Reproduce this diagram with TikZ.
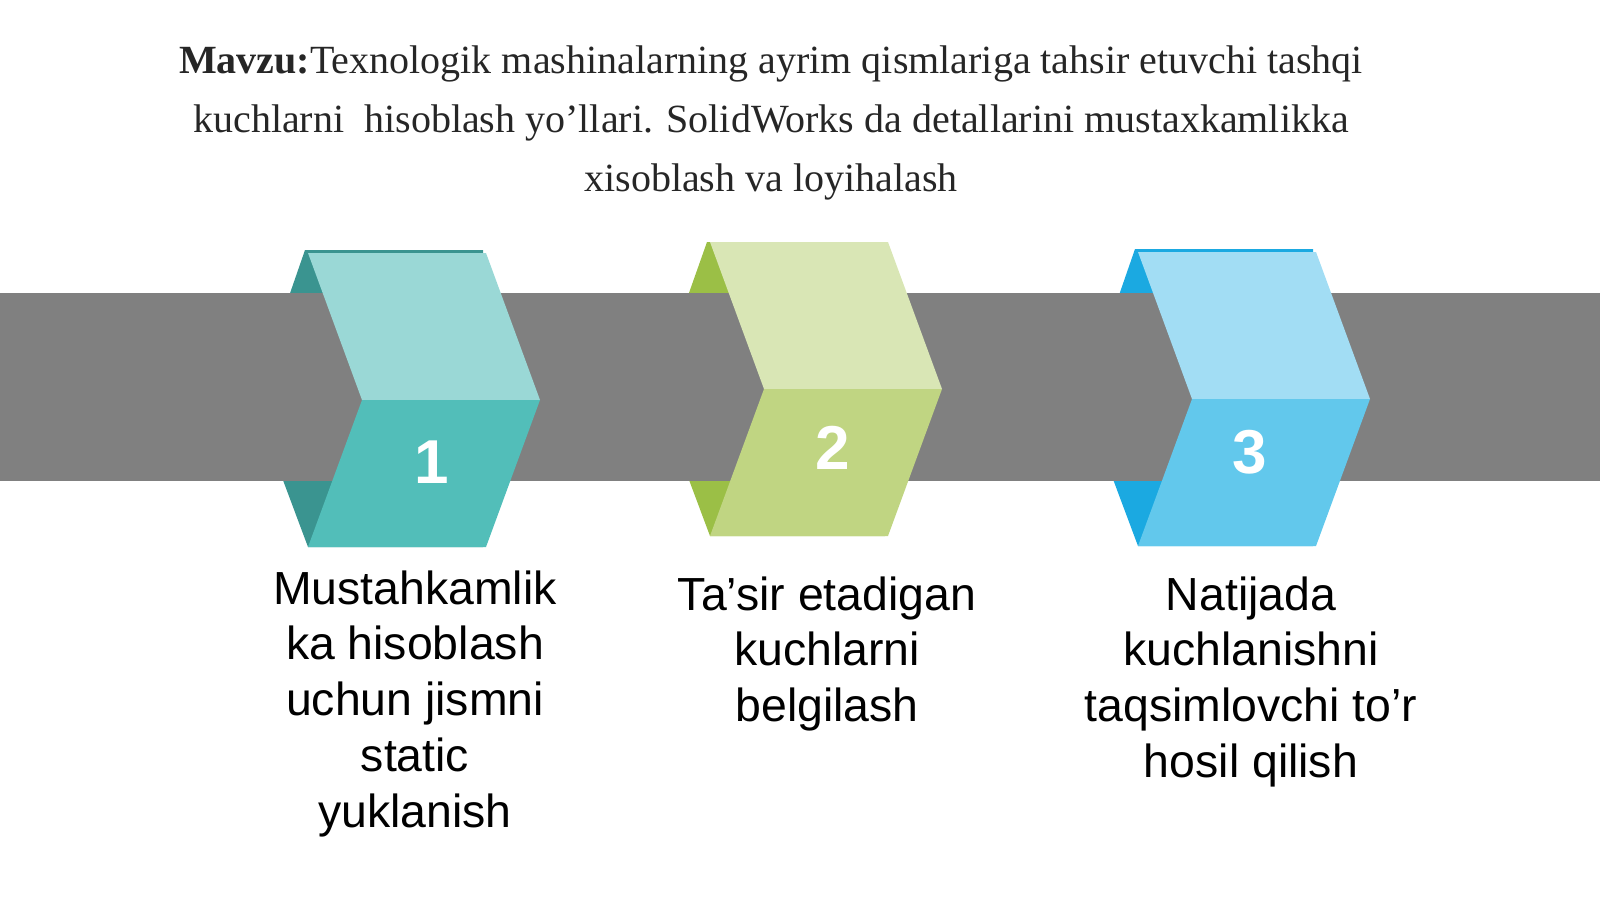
\documentclass[tikz,border=0pt]{standalone}
\usepackage{fontspec}
\setmainfont{Liberation Serif}
\newfontfamily\sansfont{Liberation Sans}
\usepackage{tikz}
\usetikzlibrary{positioning}
\usepackage{xcolor}
\definecolor{bandgray}{HTML}{808080}
\definecolor{titlegray}{HTML}{262626}
\definecolor{tealdark}{HTML}{3A9490}
\definecolor{teallight}{HTML}{9AD8D6}
\definecolor{tealmid}{HTML}{52BEB9}
\definecolor{greendark}{HTML}{9BBF46}
\definecolor{greenlight}{HTML}{D9E6B5}
\definecolor{greenmid}{HTML}{C0D582}
\definecolor{bluedark}{HTML}{1BA9E1}
\definecolor{bluelight}{HTML}{A2DDF4}
\definecolor{bluemid}{HTML}{62C8EC}
\tikzset{
  heading/.style={font=\fontsize{20}{29.5}\selectfont,text=titlegray,
    align=center,anchor=north,inner sep=0pt},
  caption/.style={font=\sansfont\fontsize{23.2}{27.9}\selectfont,
    align=center,anchor=north,inner sep=0pt},
  stepnum/.style={font=\sansfont\bfseries\fontsize{31}{31}\selectfont,
    text=white,inner sep=0pt}
}

\begin{document}
\begin{tikzpicture}[x=0.5pt,y=-0.5pt]
  \useasboundingbox (0,0) rectangle (1600,899);

  % Title
  \node[heading] (title) at (771,45)
    {\textbf{Mavzu:}Texnologik mashinalarning ayrim qismlariga tahsir etuvchi tashqi\\
     kuchlarni\ \ hisoblash yo’llari. SolidWorks da detallarini mustaxkamlikka\\
     xisoblash va loyihalash};

  % Back folds (behind the band)
  \foreach \X/\Y/\t/\dk in {308/253/3/tealdark,710/242/0/greendark,1138/252/3/bluedark}
    \fill[\dk] (\X-3,\Y-\t) -- (\X+175,\Y-\t) -- (\X+175,\Y+294)
      -- (\X,\Y+294) -- (\X-55,\Y+147) -- cycle;

  % Band
  \fill[bandgray] (0,293) rectangle (1600,481);

  % Front chevrons with numbers
  \foreach \X/\Y/\lt/\md/\nx/\ny/\n in
    {308/253/teallight/tealmid/432/462/1,
     710/242/greenlight/greenmid/833/448/2,
     1138/252/bluelight/bluemid/1250/452/3}{
    \fill[\lt] (\X,\Y) -- (\X+178,\Y) -- (\X+232,\Y+147)
      -- (\X+54,\Y+147) -- cycle;                  % upper half
    \fill[\md] (\X+54,\Y+147) -- (\X+232,\Y+147) -- (\X+178,\Y+294)
      -- (\X,\Y+294) -- cycle;                     % lower half
    \node[stepnum] (num\n) at (\nx,\ny) {\n};
  }

  % Captions
  \node[caption] (cap1) at (415,570)
    {Mustahkamlik\\ka hisoblash\\uchun jismni\\static\\yuklanish};
  \node[caption] (cap2) at (827,576)
    {Ta’sir etadigan\\kuchlarni\\belgilash};
  \node[caption] (cap3) at (1251,576)
    {Natijada\\kuchlanishni\\taqsimlovchi to’r\\hosil qilish};
\end{tikzpicture}
\end{document}
